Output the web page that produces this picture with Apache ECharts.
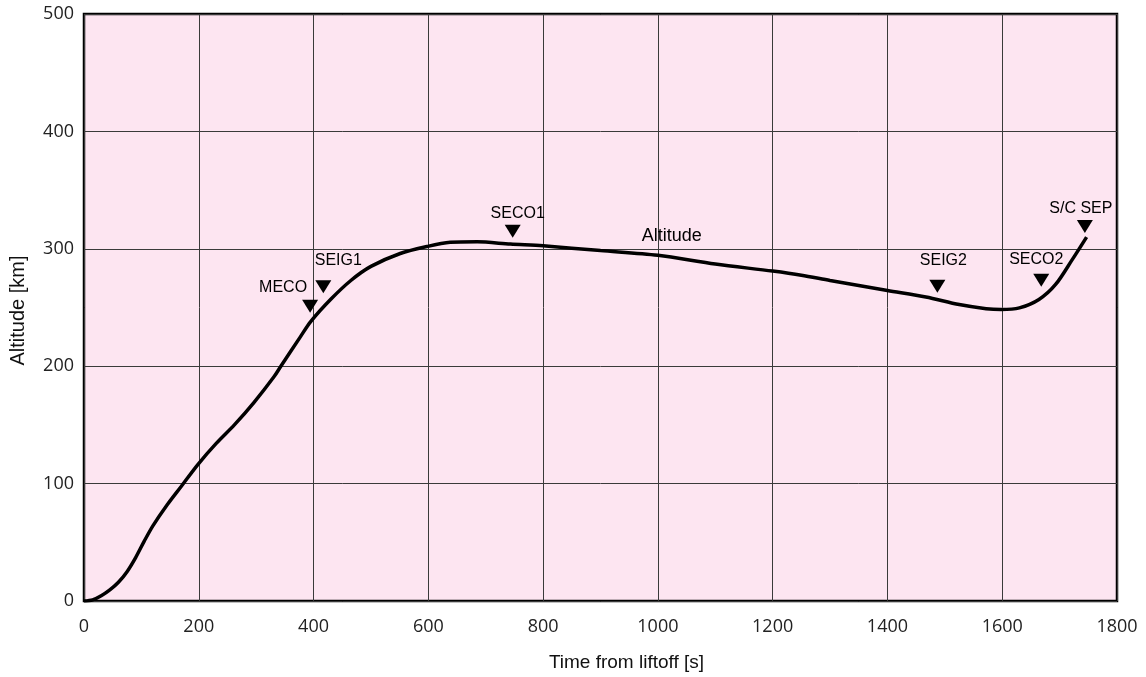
<!DOCTYPE html>
<html>
<head>
<meta charset="utf-8">
<script src="https://cdn.jsdelivr.net/npm/echarts@6/dist/echarts.min.js"></script>
<style>
  html, body { margin: 0; padding: 0; background: #ffffff; }
  #chart { width: 1146px; height: 677px; }
</style>
</head>
<body>
<div id="chart"></div>
<script>
// ---- Data ----
const timeSec = [0, 15, 30, 45, 60, 75, 90, 105, 120, 145, 170, 198, 230, 262, 296, 331, 343, 377, 395, 430, 465, 500, 551, 598, 638, 685, 743, 800, 900, 1000, 1100, 1200, 1250, 1300, 1400, 1467, 1525, 1572, 1598, 1630, 1664, 1693, 1722, 1747];
const altitudeKm = [0, 1, 4.5, 9.5, 16, 25, 37, 51, 64, 82, 98, 116, 134, 150, 169, 191, 200, 225, 238, 257, 273, 285, 296, 302, 305.5, 306, 304, 302.5, 298.5, 294.5, 287, 281, 277.5, 273, 264.5, 259, 252.5, 249, 248.3, 249.7, 256.8, 269.6, 290.8, 310];

const eventNames = ['MECO', 'SEIG1', 'SECO1', 'SEIG2', 'SECO2', 'S/C SEP'];
const eventTimes = [394, 417, 747, 1487, 1668, 1744];
const eventAlts  = [251, 267.6, 314.9, 268.1, 273.2, 319.1];

const seriesLabel = 'Altitude';
const seriesLabelPos = [1024, 310.8];

const xTicks = [0, 200, 400, 600, 800, 1000, 1200, 1400, 1600, 1800];
const yTicks = [0, 100, 200, 300, 400, 500];
const xTitle = 'Time from liftoff [s]';
const yTitle = 'Altitude [km]';

// ---- Styling (label offsets relative to marker) ----
const labelOffsets = {
  'MECO': [-27, -19],
  'SEIG1': [15, -26],
  'SECO1': [5, -18],
  'SEIG2': [6, -26],
  'SECO2': [-5, -21],
  'S/C SEP': [-4, -18]
};

const lineData = timeSec.map((t, i) => [t, altitudeKm[i]]);
const eventData = eventNames.map((n, i) => ({
  name: n,
  value: [eventTimes[i], eventAlts[i]],
  label: { offset: labelOffsets[n] }
}));

const chart = echarts.init(document.getElementById('chart'), null, { renderer: 'canvas' });
const tickFont = { fontFamily: '"Open Sans", "Liberation Sans", sans-serif', fontSize: 18, color: '#222' };
const plain = v => String(v);

chart.setOption({
  animation: false,
  backgroundColor: '#ffffff',
  grid: {
    left: 83, right: 29, top: 14, bottom: 75,
    show: true,
    backgroundColor: '#fde5f1',
    borderColor: '#000',
    borderWidth: 2.5
  },
  xAxis: {
    type: 'value',
    min: xTicks[0], max: xTicks[xTicks.length - 1], interval: 200,
    name: xTitle,
    nameLocation: 'middle',
    nameGap: 52,
    nameTextStyle: { fontFamily: '"Liberation Sans", Arial, sans-serif', fontSize: 19, color: '#111', padding: [0, 0, 0, 52] },
    axisLine: { show: false },
    axisTick: { show: false },
    axisLabel: Object.assign({ margin: 17, formatter: plain }, tickFont),
    splitLine: { show: true, lineStyle: { color: '#3a3a3a', width: 1 } }
  },
  yAxis: {
    type: 'value',
    min: yTicks[0], max: yTicks[yTicks.length - 1], interval: 100,
    name: yTitle,
    nameLocation: 'middle',
    nameGap: 56,
    nameRotate: 90,
    nameTextStyle: { fontFamily: '"Liberation Sans", Arial, sans-serif', fontSize: 20, color: '#111', padding: [0, 6, 0, 0] },
    axisLine: { show: false },
    axisTick: { show: false },
    axisLabel: Object.assign({ margin: 10, padding: [5, 0, 0, 0], formatter: plain }, tickFont),
    splitLine: { show: true, lineStyle: { color: '#3a3a3a', width: 1 } }
  },
  series: [
    {
      type: 'line',
      data: lineData,
      smooth: 0.3,
      showSymbol: false,
      lineStyle: { color: '#000', width: 3.5 },
      z: 3
    },
    {
      type: 'scatter',
      data: eventData,
      symbol: 'path://M0,0L16,0L8,13Z',
      symbolSize: [16, 13],
      itemStyle: { color: '#000', opacity: 1 },
      label: {
        show: true,
        position: 'inside',
        formatter: '{b}',
        color: '#000',
        fontFamily: '"Liberation Sans", Arial, sans-serif',
        fontSize: 16
      },
      z: 4
    },
    {
      type: 'scatter',
      data: [{ name: seriesLabel, value: seriesLabelPos }],
      symbolSize: 0,
      itemStyle: { opacity: 1 },
      label: {
        show: true,
        position: 'inside',
        formatter: '{b}',
        color: '#000',
        fontFamily: '"Liberation Sans", Arial, sans-serif',
        fontSize: 18
      },
      z: 4
    }
  ]
});
</script>
</body>
</html>
